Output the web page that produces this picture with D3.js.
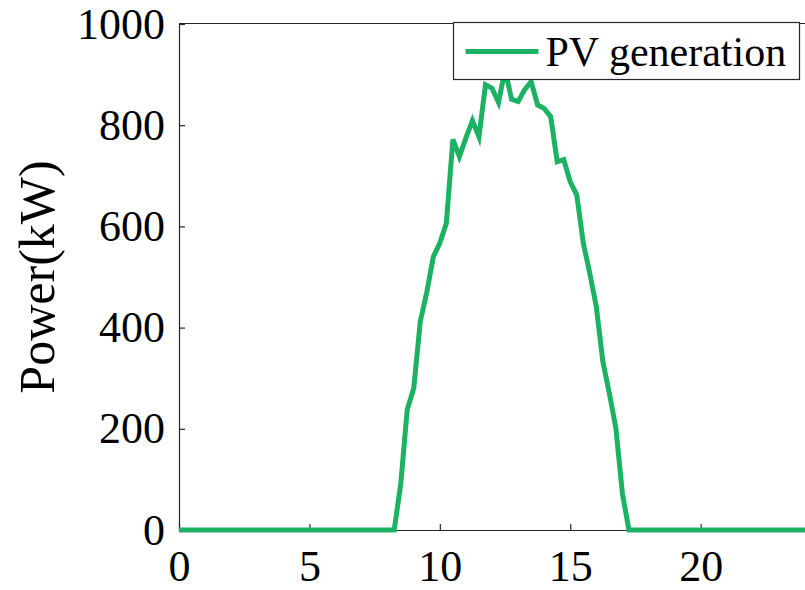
<!DOCTYPE html>
<html>
<head>
<meta charset="utf-8">
<script src="https://cdn.jsdelivr.net/npm/d3@7"></script>
<style>
  body { margin: 0; background: #fff; }
  svg { display: block; }
  text { font-family: "Liberation Serif", "Times New Roman", serif; fill: #000; }
</style>
</head>
<body>
<div id="chart"></div>
<script>
"use strict";

// hour of day (15 min steps during daylight)
var hours = [0, 8.25, 8.5, 8.75, 9, 9.25, 9.5, 9.75, 10, 10.25, 10.5, 10.75, 11,
  11.25, 11.5, 11.75, 12, 12.25, 12.5, 12.75, 13, 13.25, 13.5, 13.75, 14,
  14.25, 14.5, 14.75, 15, 15.25, 15.5, 15.75, 16, 16.25, 16.5, 16.75, 17,
  17.25, 24];
// PV output, kW
var pv_power = [0, 0, 90, 238, 280, 412, 470, 540, 567, 606, 772, 738, 775,
  809, 777, 880, 873, 845, 910, 851, 847, 870, 886, 840, 833,
  817, 728, 732, 688, 662, 567, 507, 441, 333, 270, 201, 72,
  0, 0];
var x_ticks = [0, 5, 10, 15, 20];
var y_ticks = [0, 200, 400, 600, 800, 1000];
var series_name = "PV generation";

var width = 805;
var height = 590;
var margin = {left: 179, right: 0, top: 24, bottom: 60};
var green = "#1bb264";
var axis_col = "#262626";

var svg = d3.select("#chart")
  .append("svg")
    .attr("width", width)
    .attr("height", height);

var x = d3.scaleLinear()
  .domain([0, 24])
  .range([margin.left, width - margin.right]);
var y = d3.scaleLinear()
  .domain([0, 1000])
  .range([height - margin.bottom, margin.top]);

// top border of the box
svg.append("line")
  .attr("x1", x(0)).attr("x2", x(24))
  .attr("y1", y(1000) - 0.5).attr("y2", y(1000) - 0.5)
  .attr("stroke", axis_col)
  .attr("stroke-width", 1);

// x axis
var gx = svg.append("g")
  .attr("transform", "translate(0," + y(0) + ")")
  .call(d3.axisBottom(x).tickValues(x_ticks).tickSizeInner(-6).tickSizeOuter(0).tickPadding(20));
// y axis
var gy = svg.append("g")
  .attr("transform", "translate(" + x(0) + ",0)")
  .call(d3.axisLeft(y).tickValues(y_ticks).tickFormat(d3.format("d"))
    .tickSizeInner(-6).tickSizeOuter(0).tickPadding(14));

[gx, gy].forEach(function(g) {
  g.select(".domain").attr("stroke", axis_col).attr("stroke-width", 1.2);
  g.selectAll(".tick line").attr("stroke", axis_col).attr("stroke-width", 1.2);
  g.selectAll(".tick text")
    .style("font-family", "'Liberation Serif', 'Times New Roman', serif")
    .style("font-size", "44px")
    .attr("fill", "#111");
});

// y label
svg.append("text")
  .attr("transform", "translate(54," + ((y(0) + y(1000)) / 2) + ") rotate(-90)")
  .attr("text-anchor", "middle")
  .style("font-size", "50px")
  .attr("fill", "#111")
  .text("Power(kW)");

// the line
var line = d3.line()
  .x(function(d, i) { return x(hours[i]); })
  .y(function(d) { return y(d); });
svg.append("path")
  .datum(pv_power)
  .attr("d", line)
  .attr("fill", "none")
  .attr("stroke", green)
  .attr("stroke-width", 5)
  .attr("stroke-linejoin", "miter");

// legend
var lg = svg.append("g").attr("transform", "translate(453.5,22.5)");
lg.append("rect")
  .attr("width", 346)
  .attr("height", 57)
  .attr("fill", "#fff")
  .attr("stroke", axis_col)
  .attr("stroke-width", 1.2);
lg.append("line")
  .attr("x1", 12).attr("x2", 85)
  .attr("y1", 29).attr("y2", 29)
  .attr("stroke", green)
  .attr("stroke-width", 5);
lg.append("text")
  .attr("x", 92)
  .attr("y", 43)
  .style("font-size", "42px")
  .attr("fill", "#111")
  .text(series_name);
</script>
</body>
</html>
